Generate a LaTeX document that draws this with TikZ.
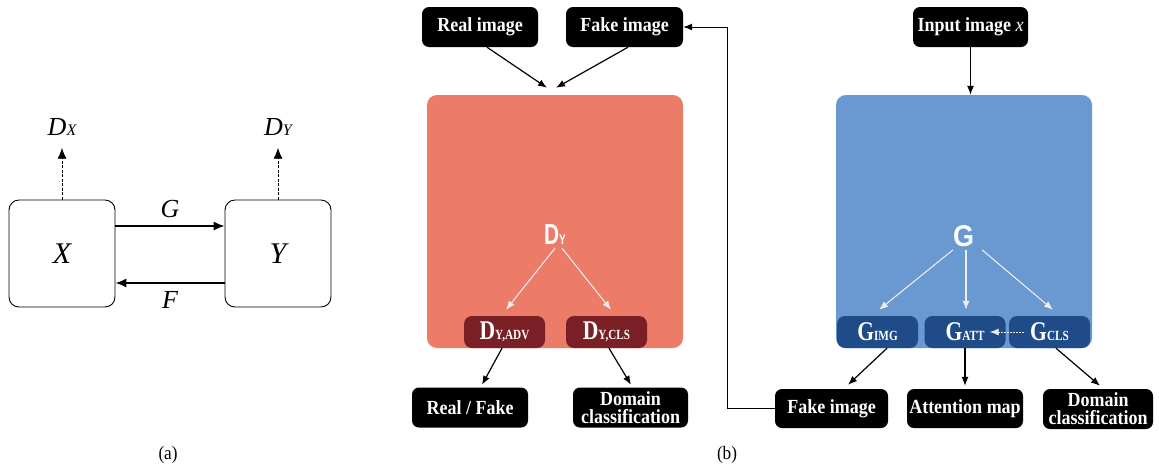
\documentclass[tikz,border=0pt]{standalone}
\usepackage{fontspec}
\setmainfont{Liberation Serif}
\setsansfont{Liberation Sans}
\newfontfamily\narrowserif[FakeStretch=0.8]{Liberation Serif}
\newfontfamily\boxserif[FakeStretch=0.9]{Liberation Serif}
\newfontfamily\narrowsans[FakeStretch=0.72]{Liberation Sans}
\newfontfamily\widesans[FakeStretch=0.9]{Liberation Sans}
\usetikzlibrary{arrows.meta}

\definecolor{discfill}{HTML}{EC7B67}
\definecolor{discdark}{HTML}{7A1F25}
\definecolor{genfill}{HTML}{6A98D0}
\definecolor{gendark}{HTML}{1F4B88}
\definecolor{innerarrow}{HTML}{ECECEC}

\newcommand{\pxfont}[1]{\fontsize{#1}{#1}\selectfont}

\begin{document}
\begin{tikzpicture}[
        x=1pt, y=-1pt,
        domain_box/.style={draw, line width=0.9pt, rounded corners=10pt, minimum width=106pt, minimum height=107pt, inner sep=0pt, font=\pxfont{30}\itshape},
        math_label/.style={inner sep=0pt, font=\itshape},
        io_box/.style={fill=black, rounded corners=7pt, text=white, inner sep=0pt, align=center, font=\boxserif\fontsize{20}{18}\selectfont\bfseries},
        block/.style={rounded corners=10pt, minimum width=256pt, minimum height=253pt, inner sep=0pt},
        sub_box/.style={rounded corners=8pt, text=white, minimum width=81pt, minimum height=32pt, inner sep=0pt, font=\narrowserif\bfseries\pxfont{27}},
        flow/.style={-{Latex[length=9pt,width=7pt]}, line width=1.2pt},
        big_flow/.style={-{Latex[length=11pt,width=9pt]}, line width=1.3pt},
        inner_flow/.style={-{Latex[length=9pt,width=7pt]}, draw=innerarrow, line width=1.1pt},
        caption/.style={font=\boxserif\pxfont{19}}
    ]
    \useasboundingbox (0,0) rectangle (1159,467);

    % --- Panel (a) ---
    \node[domain_box] (X) at (62,253.5) {X};
    \node[domain_box] (Y) at (278,253.5) {Y};
    \node[math_label] (dx) at (62,127) {{\pxfont{26}D}{\pxfont{16}X}};
    \node[math_label] (dy) at (278,127) {{\pxfont{26}D}{\pxfont{16}Y}};

    \draw[big_flow] ([yshift=27.5pt]X.east) -- node[math_label, above=8pt] {\pxfont{26}G} ([yshift=27.5pt]Y.west);
    \draw[big_flow] ([yshift=-29.5pt]Y.west) -- node[math_label, below=8pt] {\pxfont{26}F} ([yshift=-29.5pt]X.east);
    \draw[big_flow, line width=0.9pt, dash pattern=on 3pt off 1.5pt] (X.north) -- ([yshift=-12pt]dx.south);
    \draw[big_flow, line width=0.9pt, dash pattern=on 3pt off 1.5pt] (Y.north) -- ([yshift=-12pt]dy.south);

    \node[caption] (capA) at (168,455) {(a)};

    % --- Panel (b): discriminator ---
    \node[block, fill=discfill] (disc) at (555,221.5) {};
    \node[io_box, minimum width=116pt, minimum height=40pt] (realIn) at (480,27) {Real image};
    \node[io_box, minimum width=117pt, minimum height=40pt] (fakeIn) at (624.5,27) {Fake image};
    \draw[flow] ([xshift=7pt]realIn.south) -- ([xshift=-8pt,yshift=7pt]disc.north);
    \draw[flow] ([xshift=3.5pt]fakeIn.south) -- ([xshift=1pt,yshift=7pt]disc.north);

    \node[text=white, inner sep=0pt, font=\narrowsans\bfseries] (dLabel) at (555,235) {{\pxfont{29}D}{\pxfont{14}Y}};
    \node[sub_box, fill=discdark] (dAdv) at (504.5,332) {D{\pxfont{14}Y,ADV}};
    \node[sub_box, fill=discdark] (dCls) at (606.5,332) {D{\pxfont{14}Y,CLS}};
    \draw[inner_flow] ([xshift=0pt,yshift=-3pt]dLabel.south) -- ([xshift=1.5pt,yshift=6pt]dAdv.north);
    \draw[inner_flow] ([xshift=7pt,yshift=-3pt]dLabel.south) -- ([xshift=4.5pt,yshift=6pt]dCls.north);

    \node[io_box, minimum width=116pt, minimum height=40pt] (realFake) at (470,407.5) {Real / Fake};
    \node[io_box, minimum width=115pt, minimum height=40pt] (domainD) at (630.5,407.5) {Domain\\classification};
    \draw[flow] ([xshift=-2.5pt]dAdv.south) -- ([xshift=12pt,yshift=2.5pt]realFake.north);
    \draw[flow] ([xshift=2.5pt]dCls.south) -- ([xshift=0.5pt,yshift=2.5pt]domainD.north);

    % --- Panel (b): generator ---
    \node[block, fill=genfill] (gen) at (964,221.5) {};
    \node[io_box, minimum width=115pt, minimum height=40pt] (inputImg) at (970.5,27) {Input image {\mdseries\itshape x}};
    \draw[flow] (inputImg.south) -- (inputImg.south |- gen.north);

    \node[text=white, inner sep=0pt, font=\widesans\bfseries\pxfont{30}] (gLabel) at (963.5,236) {G};
    \node[sub_box, fill=gendark] (gImg) at (877.5,332) {G{\pxfont{14}IMG}};
    \node[sub_box, fill=gendark] (gAtt) at (965,332) {G{\pxfont{14}ATT}};
    \node[sub_box, fill=gendark] (gCls) at (1049.5,332) {G{\pxfont{14}CLS}};
    \draw[inner_flow] ([xshift=-10.5pt,yshift=-3pt]gLabel.south) -- ([xshift=1.5pt,yshift=6pt]gImg.north);
    \draw[inner_flow] ([xshift=2.5pt,yshift=-3pt]gLabel.south) -- ([xshift=1pt,yshift=6pt]gAtt.north);
    \draw[inner_flow] ([xshift=18.5pt,yshift=-3pt]gLabel.south) -- ([xshift=3.5pt,yshift=6pt]gCls.north);
    \draw[inner_flow, line width=0.9pt, dash pattern=on 2pt off 1pt] ([xshift=15.5pt]gCls.west) -- ([xshift=-16pt]gAtt.east);

    \node[io_box, minimum width=113pt, minimum height=39pt] (fakeOut) at (831.5,408.5) {Fake image};
    \node[io_box, minimum width=116pt, minimum height=39pt] (attnMap) at (965,408.5) {Attention map};
    \node[io_box, minimum width=110pt, minimum height=40pt] (domainG) at (1098,409) {Domain\\classification};
    \draw[flow] ([xshift=9.5pt]gImg.south) -- ([xshift=16.5pt,yshift=4pt]fakeOut.north);
    \draw[flow] (gAtt.south) -- ([yshift=3pt]attnMap.north);
    \draw[flow] ([xshift=6.5pt]gCls.south) -- ([xshift=2pt,yshift=3pt]domainG.north);

    % fake image goes back to the discriminator
    \draw[flow, line width=1pt] (fakeOut.west) -- ++(-47,0) |- (fakeIn.east);

    \node[caption] (capB) at (727,455) {(b)};
\end{tikzpicture}
\end{document}
